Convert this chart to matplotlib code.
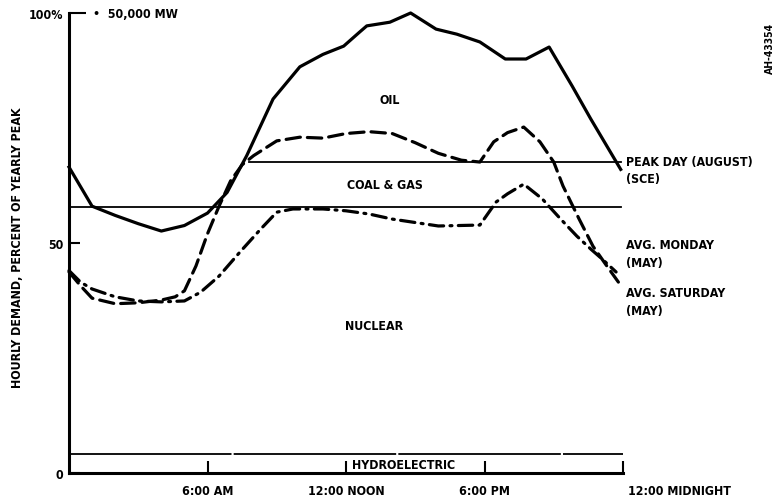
import matplotlib
matplotlib.use("Agg")
import matplotlib.pyplot as plt

# ---------------- data ----------------
peak_hours = [0, 1, 2, 3, 4, 5, 6, 6.85, 7.7, 8.84, 10, 11, 11.9, 12.6, 12.9, 13.9, 14.8,
              15.9, 16.8, 17.8, 18.9, 19.8, 20.8, 21.8, 22.6, 23.9]
peak_vals = [66.5, 58, 56, 54.2, 52.6, 53.8, 56.5, 61, 69, 81.3, 88.3, 91, 92.8, 95.9, 97.2,
             98, 100, 96.5, 95.4, 93.7, 90, 90, 92.6, 84.1, 77, 66]

monday_hours = [0, 0.5, 1, 2, 3, 4, 4.6, 5, 5.5, 6, 6.5, 7, 7.5, 8, 9, 10, 11, 12, 13, 14, 15,
                16, 17, 17.8, 18.4, 19, 19.7, 20.4, 21, 21.4, 22.1, 22.7, 23.3, 23.8]
monday_vals = [43.7, 40.7, 38, 36.8, 37, 37.6, 38.3, 39.6, 45, 52, 58, 63.5, 67, 69, 72.2, 73, 72.8,
               73.8, 74.2, 73.8, 71.8, 69.5, 68, 67.6, 72, 74, 75.2, 72, 67.6, 62.4, 55.2,
               49.3, 45, 41.5]

saturday_hours = [0, 0.5, 1, 2, 3, 4, 5, 5.7, 6.5, 7.4, 8.3, 9, 9.7, 11, 12, 13, 14, 16,
                  17.8, 18.5, 19, 19.7, 20.5, 21.3, 22, 22.6, 23.1, 23.7]
saturday_vals = [44, 41.5, 40, 38.3, 37.4, 37.2, 37.4, 39.3, 42.8, 48, 53, 56.7, 57.4, 57.4,
                 57, 56.3, 55.2, 53.7, 53.9, 58.9, 60.7, 62.8, 59.6, 55.2, 51.5, 48.7, 46.5, 43.7]

peak_line_level = 67.6      # oil / coal & gas boundary
coal_line_level = 57.8      # coal & gas / nuclear boundary
hydro_level = 4.1           # nuclear / hydro boundary
peak_line_start = 7.8

x_ticks = [6, 12, 18, 24]
x_tick_labels = ["6:00 AM", "12:00 NOON", "6:00 PM", "12:00 MIDNIGHT"]
y_ticks = [0, 50, 100]
y_tick_labels = ["0", "50", "100%"]

region_labels = ["OIL", "COAL & GAS", "NUCLEAR", "HYDROELECTRIC"]
region_x = [13.9, 13.7, 13.2, 12.25]
region_y = [81.3, 62.8, 32.0, 1.9]

right_series_labels = ["PEAK DAY (AUGUST)\n(SCE)", "AVG. MONDAY\n(MAY)", "AVG. SATURDAY\n(MAY)"]
right_label_y = [69.2, 51.0, 40.6]

# ---------------- style ----------------
plt.rcParams["font.family"] = ["DejaVu Sans"]
plt.rcParams["font.weight"] = "bold"
plt.rcParams["font.stretch"] = "condensed"
FS = 8.9
TXT = dict(fontsize=FS, fontweight="bold", fontstretch="condensed")

fig = plt.figure(figsize=(7.79, 5.02), dpi=100)
ax = fig.add_axes([69 / 779, 1 - 474 / 502, (623 - 69) / 779, (474 - 14) / 502])
ax.set_xlim(0, 24)
ax.set_ylim(0, 100)

k = "black"
ax.plot(peak_hours, peak_vals, color=k, lw=2.3, solid_joinstyle="round", clip_on=False)
ax.plot(monday_hours, monday_vals, color=k, lw=2.3, linestyle=(0, (4.5, 2.2)),
        dash_capstyle="round", clip_on=False)
ax.plot(saturday_hours, saturday_vals, color=k, lw=2.3, linestyle=(0, (4.5, 2.0, 0.6, 2.0)),
        dash_capstyle="round", clip_on=False)

ax.plot([peak_line_start, 23.9], [peak_line_level] * 2, color=k, lw=1.3)
ax.plot([0, 23.9], [coal_line_level] * 2, color=k, lw=1.3)
ax.plot([0, 24], [hydro_level] * 2, color=k, lw=1.3, linestyle=(0, (90, 1.2)))

# axes styling
for s in ["top", "right"]:
    ax.spines[s].set_visible(False)
ax.spines["left"].set_linewidth(2.2)
ax.spines["bottom"].set_linewidth(2.2)
ax.set_xticks(x_ticks)
ax.set_xticklabels([])
ax.tick_params(axis="x", direction="in", length=9, width=1.5)
ax.set_yticks(y_ticks)
ax.set_yticklabels(y_tick_labels, **TXT)
ax.tick_params(axis="y", direction="in", length=8, width=1.5, pad=4)
ax.yaxis.get_major_ticks()[2].tick1line.set_markersize(12)

# x tick labels below axis
for xv, lab in zip(x_ticks, x_tick_labels):
    ha = "left" if xv == 24 else "center"
    xx = 24.2 if xv == 24 else xv
    ax.text(xx, -3.7, lab, ha=ha, va="center", clip_on=False, **TXT)

ax.text(1.05, 100, "\u2022  50,000 MW", ha="left", va="center", clip_on=False, **TXT)

for lab, xv, yv in zip(region_labels, region_x, region_y):
    ha = "left" if lab == "HYDROELECTRIC" else "center"
    ax.text(xv, yv, lab, ha=ha, va="center", **TXT)

for lab, yv in zip(right_series_labels, right_label_y):
    ax.text(24.15, yv, lab, ha="left", va="top", linespacing=1.45, clip_on=False, **TXT)

fig.text(18 / 779, 1 - 248 / 502, "HOURLY DEMAND, PERCENT OF YEARLY PEAK", rotation=90,
         ha="center", va="center", **TXT)
fig.text(770 / 779, 1 - 48 / 502, "AH-43354", rotation=90, ha="center", va="center",
         fontsize=7.5, fontweight="bold", fontstretch="condensed")

fig.savefig("out.png", dpi=100)
